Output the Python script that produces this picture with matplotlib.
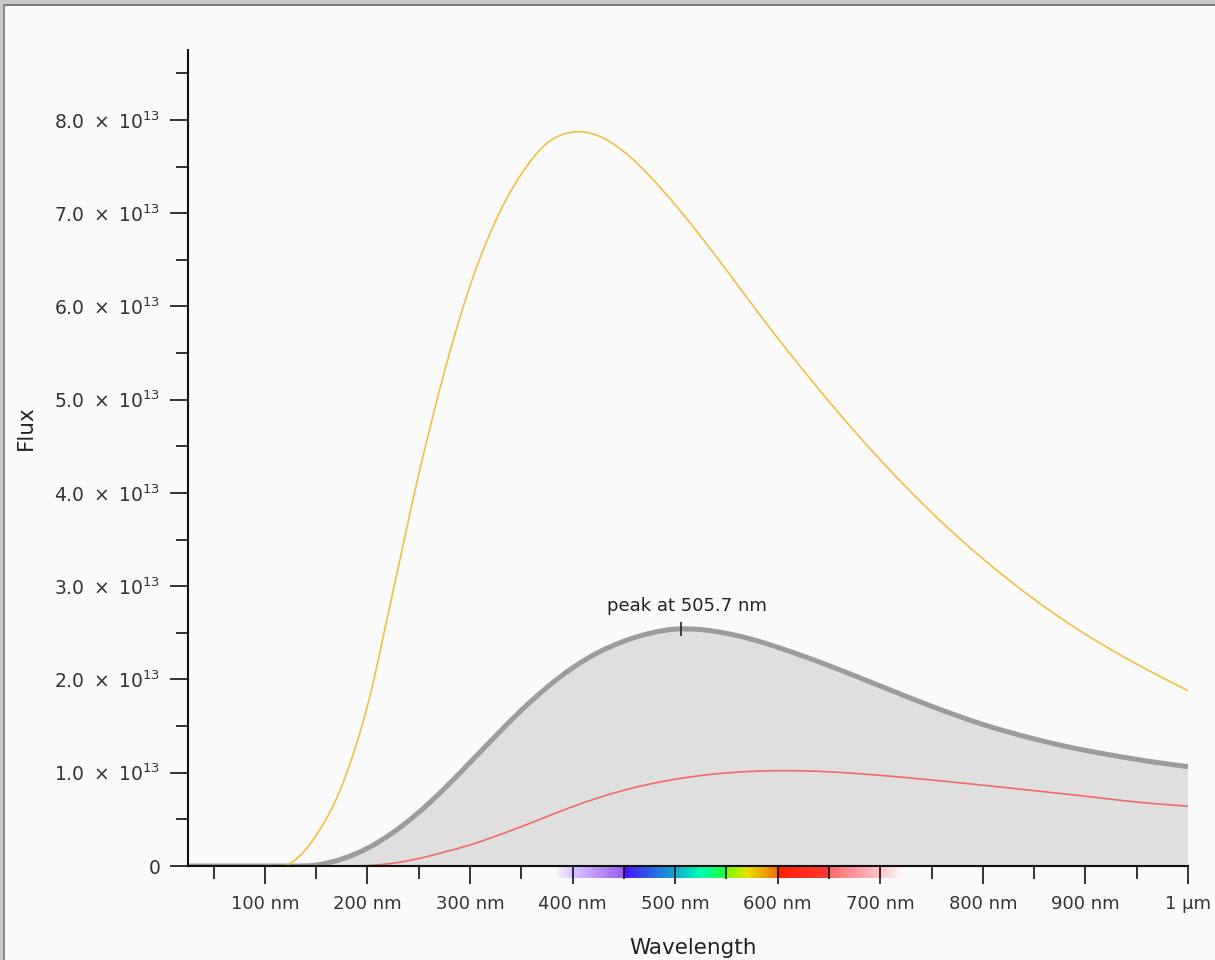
import numpy as np
import matplotlib
matplotlib.use("Agg")
from matplotlib import pyplot as plt
from matplotlib.colors import to_rgb
from matplotlib.patches import Rectangle, PathPatch
from matplotlib.path import Path

# wavelength grid (nm) and the three curves (units of 1e13)
wavelength = [25, 50, 75, 100, 125, 150, 175, 200, 225, 250, 275, 300, 325, 350,
              375, 400, 425, 450, 475, 500, 525, 550, 575, 600, 625, 650, 675, 700,
              725, 750, 775, 800, 825, 850, 875, 900, 925, 950, 975, 1000]

flux_yellow = [0, 0, 0, 0, 0.03, 0.33, 0.86, 1.72, 2.95, 4.20, 5.30, 6.22, 6.92, 7.42,
               7.75, 7.87, 7.83, 7.66, 7.40, 7.09, 6.75, 6.39, 6.02, 5.66, 5.315, 4.98,
               4.66, 4.355, 4.065, 3.79, 3.535, 3.295, 3.07, 2.86, 2.665, 2.485, 2.32,
               2.165, 2.02, 1.88]

flux_grey = [0, 0, 0, 0, 0, 0.01, 0.075, 0.19, 0.36, 0.575, 0.83, 1.11, 1.395, 1.67,
             1.915, 2.125, 2.29, 2.41, 2.495, 2.54, 2.535, 2.495, 2.43, 2.345, 2.25,
             2.148, 2.04, 1.93, 1.82, 1.713, 1.612, 1.518, 1.437, 1.363, 1.297, 1.24,
             1.19, 1.143, 1.102, 1.065]

flux_red = [0, 0, 0, 0, 0, 0, 0, 0.005, 0.03, 0.08, 0.15, 0.226, 0.32, 0.422, 0.53,
            0.636, 0.731, 0.812, 0.878, 0.93, 0.97, 0.998, 1.015, 1.022, 1.02, 1.01,
            0.993, 0.972, 0.948, 0.922, 0.895, 0.866, 0.837, 0.808, 0.778, 0.748,
            0.716, 0.686, 0.662, 0.64]

peak_nm = 505.7
peak_flux = 2.54

x_ticks = [100, 200, 300, 400, 500, 600, 700, 800, 900, 1000]
x_labels = ["100 nm", "200 nm", "300 nm", "400 nm", "500 nm", "600 nm", "700 nm",
            "800 nm", "900 nm", "1 µm"]
y_ticks = [0, 1, 2, 3, 4, 5, 6, 7, 8]
y_labels = ["0"] + ["%d.0\u2002×\u200210$^{13}$" % v for v in y_ticks[1:]]

# visible spectrum strip below the axis (nm, colour)
spec_nm = [382, 400, 449.9, 450, 500, 525, 549.9, 550, 570, 599.9, 600, 649.9, 650,
           700, 722]
spec_col = ["#fafafa", "#dcc4ff", "#9a5cf2", "#4a10ff", "#10a8d0", "#00ffb0",
            "#20ff30", "#70ff00", "#e8e000", "#f07000", "#ff2000", "#ff3838",
            "#ff6a6a", "#ffc4cc", "#fafafa"]

scale = 1e13


def smooth_path(x, y):
    # catmull-rom style cubic bezier through the points, kept flat next to flat parts
    x = np.asarray(x, float)
    y = np.asarray(y, float)
    h = np.diff(x)
    s = np.diff(y) / h
    t = np.zeros(len(x))
    for i in range(1, len(x) - 1):
        if s[i - 1] == 0 or s[i] == 0:
            t[i] = 0
        else:
            t[i] = (y[i + 1] - y[i - 1]) / (x[i + 1] - x[i - 1])
    t[0] = s[0]
    t[-1] = s[-1]
    verts = [(x[0], y[0])]
    codes = [Path.MOVETO]
    for i in range(len(x) - 1):
        dx = h[i] / 3
        verts += [(x[i] + dx, y[i] + dx * t[i]), (x[i + 1] - dx, y[i + 1] - dx * t[i + 1]),
                  (x[i + 1], y[i + 1])]
        codes += [Path.CURVE4] * 3
    return verts, codes


plt.rcParams["font.family"] = "DejaVu Sans"
plt.rcParams["mathtext.fontset"] = "dejavusans"

fig = plt.figure(figsize=(12.15, 9.6), dpi=100, facecolor="#fafafa")
ax = fig.add_axes([188 / 1215, 1 - 866 / 960, 1000 / 1215, 816 / 960])
ax.set_facecolor("#fafafa")

# frame round the picture (top and left only)
fig.patches.append(Rectangle((0, 1 - 6 / 960), 1, 6 / 960, transform=fig.transFigure,
                             facecolor="#c8c8c8", edgecolor="none"))
fig.patches.append(Rectangle((0, 1 - 6 / 960), 1, 2 / 960, transform=fig.transFigure,
                             facecolor="#7c7c7c", edgecolor="none"))
fig.patches.append(Rectangle((0, 0), 5 / 1215, 1, transform=fig.transFigure,
                             facecolor="#c8c8c8", edgecolor="none"))
fig.patches.append(Rectangle((3 / 1215, 0), 2 / 1215, 1 - 4 / 960, transform=fig.transFigure,
                             facecolor="#8c8c8c", edgecolor="none"))

# grey area + outline
gv, gc = smooth_path(wavelength, np.array(flux_grey) * scale)
area_v = gv + [(wavelength[-1], 0), (wavelength[0], 0), gv[0]]
area_c = gc + [Path.LINETO, Path.LINETO, Path.CLOSEPOLY]
ax.add_patch(PathPatch(Path(area_v, area_c), facecolor="#dfdfdf", edgecolor="none", zorder=1))
ax.add_patch(PathPatch(Path(gv, gc), facecolor="none", edgecolor="#9c9c9c", lw=3.6,
                       capstyle="butt", zorder=2))

rv, rc = smooth_path(wavelength, np.array(flux_red) * scale)
ax.add_patch(PathPatch(Path(rv, rc), facecolor="none", edgecolor="#f06c6c", lw=1.2, zorder=3))
yv, yc = smooth_path(wavelength, np.array(flux_yellow) * scale)
ax.add_patch(PathPatch(Path(yv, yc), facecolor="none", edgecolor="#f0c040", lw=1.2, zorder=3))

# peak marker
ax.plot([peak_nm], [peak_flux * scale], marker="|", color="#222222", ms=9.5, mew=1.2,
        zorder=4)
ax.annotate("peak at %.1f nm" % peak_nm, xy=(peak_nm, peak_flux * scale),
            xytext=(4, 10), textcoords="offset points", ha="center", va="bottom",
            fontsize=13, color="#222222")

# spectrum strip
grid = np.linspace(spec_nm[0], spec_nm[-1], 600)
rgb = np.array([to_rgb(c) for c in spec_col])
strip = np.stack([np.interp(grid, spec_nm, rgb[:, k]) for k in range(3)], axis=-1)
trans = matplotlib.transforms.blended_transform_factory(ax.transData, ax.transAxes)
ax.imshow(strip[np.newaxis, :, :], extent=(spec_nm[0], spec_nm[-1], -12 / 816, 0),
          transform=trans, aspect="auto", interpolation="bilinear", clip_on=False,
          zorder=0)

ax.set_xlim(25, 1000)
ax.set_ylim(0, 8.75 * scale)

ax.set_xticks(x_ticks)
ax.set_xticklabels(x_labels)
ax.set_xticks(np.arange(50, 1000, 100), minor=True)
ax.set_yticks(np.array(y_ticks) * scale)
ax.set_yticklabels(y_labels)
ax.set_yticks(np.arange(0.5, 8.75, 1) * scale, minor=True)

for s in ["top", "right"]:
    ax.spines[s].set_visible(False)
for s in ["left", "bottom"]:
    ax.spines[s].set_linewidth(1.5)
    ax.spines[s].set_color("#111111")
    ax.spines[s].set_zorder(5)

ax.tick_params(which="major", length=13, width=1.2, color="#111111", labelsize=13,
               labelcolor="#333333", pad=8)
ax.tick_params(which="minor", length=9, width=1.2, color="#111111")
ax.tick_params(axis="y", pad=7, labelsize=13.5)

ax.set_xlabel("Wavelength", fontsize=15.5, color="#222222")
ax.xaxis.set_label_coords(0.505, -0.088)
ax.set_ylabel("Flux", fontsize=15.5, color="#222222")
ax.yaxis.set_label_coords(-0.152, 0.537)

fig.savefig("out.png", dpi=100, facecolor=fig.get_facecolor())
